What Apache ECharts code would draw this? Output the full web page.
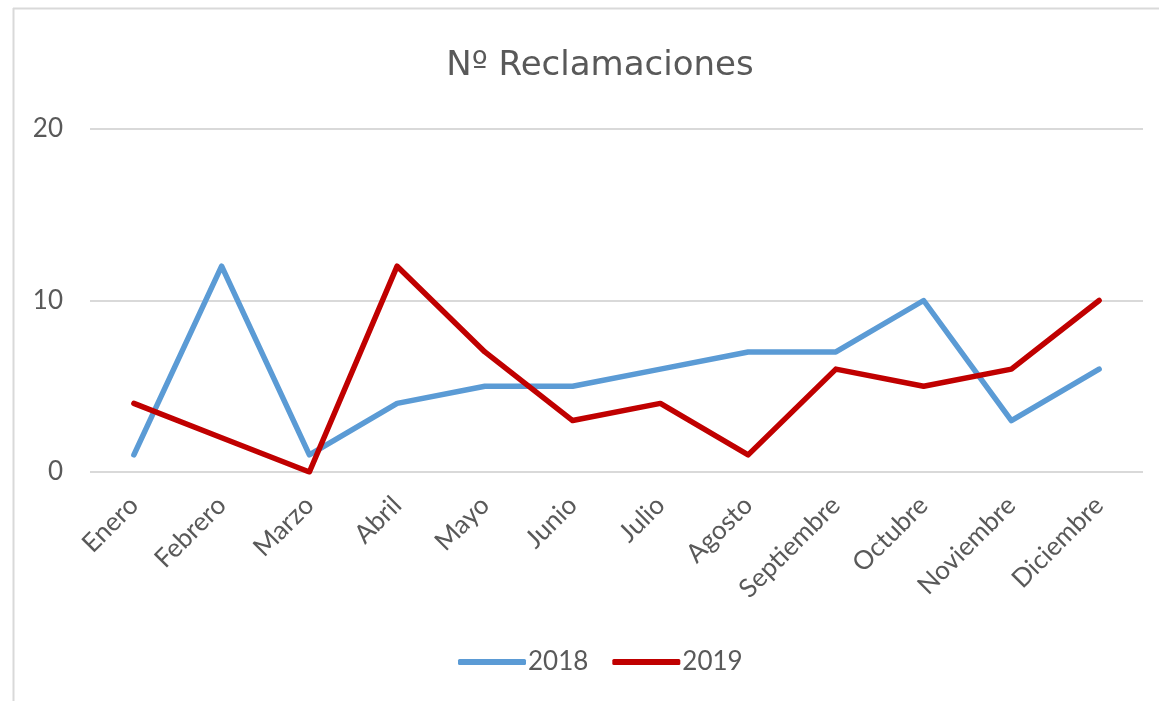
<!DOCTYPE html>
<html>
<head>
<meta charset="utf-8">
<script src="https://cdn.jsdelivr.net/npm/echarts@6/dist/echarts.min.js"></script>
<style>
  html, body { margin: 0; padding: 0; background: #fff; }
  #main { width: 1159px; height: 701px; }
</style>
</head>
<body>
<div id="main"></div>
<script>
const months = ['Enero', 'Febrero', 'Marzo', 'Abril', 'Mayo', 'Junio', 'Julio', 'Agosto', 'Septiembre', 'Octubre', 'Noviembre', 'Diciembre'];
const values2018 = [1, 12, 1, 4, 5, 5, 6, 7, 7, 10, 3, 6];
const values2019 = [4, 2, 0, 12, 7, 3, 4, 1, 6, 5, 6, 10];
const seriesNames = ['2018', '2019'];
const colors = ['#5B9BD5', '#C00000'];

const font = 'Lato, "Open Sans", sans-serif';
const textGray = '#595959';

let myChart = echarts.init(document.getElementById('main'));

function lineSeries(name, data, color) {
	return {
		name: name,
		type: 'line',
		data: data,
		showSymbol: false,
		symbol: 'none',
		color: color,
		lineStyle: {
			width: 5.5,
			color: color,
			cap: 'round',
			join: 'round'
		}
	};
}

let option = {
	animation: false,
	backgroundColor: '#fff',
	textStyle: {fontFamily: font},
	graphic: [
		// chart frame (top and left edges visible)
		{type: 'line', shape: {x1: 13, y1: 8.5, x2: 1159, y2: 8.5}, style: {stroke: '#d9d9d9', lineWidth: 2}},
		{type: 'line', shape: {x1: 13.5, y1: 8, x2: 13.5, y2: 701}, style: {stroke: '#d9d9d9', lineWidth: 2}}
	],
	title: {
		text: 'Nº Reclamaciones',
		left: 595,
		textAlign: 'center',
		top: 44,
		textStyle: {
			fontFamily: '"DejaVu Sans", sans-serif',
			fontSize: 34,
			fontWeight: 'normal',
			color: textGray
		}
	},
	legend: {
		top: 644,
		left: 453,
		icon: 'roundRect',
		itemWidth: 68,
		itemHeight: 6,
		itemGap: 24,
		textStyle: {fontFamily: font, fontSize: 26, color: textGray, padding: [0, 0, 0, -3]},
		data: seriesNames
	},
	grid: {
		left: 90,
		right: 16,
		top: 129,
		bottom: 229
	},
	xAxis: {
		type: 'category',
		data: months,
		boundaryGap: true,
		axisLine: {show: false},
		axisTick: {show: false},
		axisLabel: {
			rotate: 45,
			fontFamily: font,
			fontSize: 26,
			color: textGray,
			margin: 29
		}
	},
	yAxis: {
		type: 'value',
		min: 0,
		max: 20,
		interval: 10,
		axisLine: {show: false},
		axisTick: {show: false},
		axisLabel: {
			fontFamily: font,
			fontSize: 26,
			color: textGray,
			margin: 27
		},
		splitLine: {lineStyle: {color: '#d9d9d9', width: 2}}
	},
	series: [
		lineSeries(seriesNames[0], values2018, colors[0]),
		lineSeries(seriesNames[1], values2019, colors[1])
	]
};

myChart.setOption(option);
</script>
</body>
</html>
